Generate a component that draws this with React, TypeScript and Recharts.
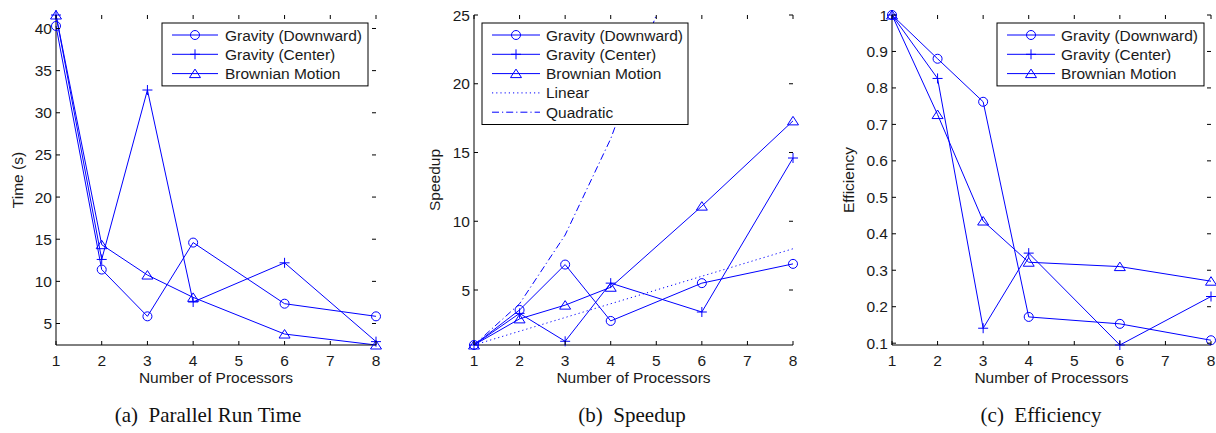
import { Line, LineChart, XAxis, YAxis } from "recharts";

// processor counts used on the x axis
const procs = [1, 2, 3, 4, 6, 8];
const xTicks = [1, 2, 3, 4, 5, 6, 7, 8];

// (a) parallel run time, seconds
const timeDownward = [40.3, 11.4, 5.85, 14.6, 7.35, 5.85];
const timeCenter = [41.6, 12.6, 32.7, 7.55, 12.2, 2.85];
const timeBrownian = [41.6, 14.35, 10.75, 8.1, 3.75, 2.45];
const timeTicks = [5, 10, 15, 20, 25, 30, 35, 40];

// (b) speedup
const speedDownward = [1, 3.55, 6.85, 2.75, 5.5, 6.9];
const speedCenter = [1, 3.3, 1.27, 5.5, 3.4, 14.6];
const speedBrownian = [1, 2.9, 3.9, 5.2, 11.1, 17.3];
const linearX = [1, 2, 3, 4, 5, 6, 7, 8];
const linearY = [1, 2, 3, 4, 5, 6, 7, 8];
const quadX = [1, 2, 3, 4, 5];
const quadY = [1, 4, 9, 16, 25];
const speedTicks = [5, 10, 15, 20, 25];

// (c) efficiency
const effDownward = [1, 0.88, 0.762, 0.172, 0.153, 0.108];
const effCenter = [1, 0.826, 0.141, 0.347, 0.095, 0.228];
const effBrownian = [1, 0.727, 0.435, 0.322, 0.31, 0.27];
const effTicks = [0.1, 0.2, 0.3, 0.4, 0.5, 0.6, 0.7, 0.8, 0.9, 1];

const BLUE = "#0000ff";
const INK = "#1a1a1a";
const SANS = "'Liberation Sans', Arial, sans-serif";
const SERIF = "'Liberation Serif', 'Times New Roman', serif";
const FS = 15.5;

const TOP = 15;
const BOTTOM = 345;
const Y_W = 56;

type Kind = "o" | "+" | "^" | "";
type Series = { name: string; x: number[]; y: number[]; marker: Kind; dash?: string };

const toRows = (x: number[], y: number[]) => x.map((v, i) => ({ x: v, y: y[i] }));

const timeSeries: Series[] = [
  { name: "Gravity (Downward)", x: procs, y: timeDownward, marker: "o" },
  { name: "Gravity (Center)", x: procs, y: timeCenter, marker: "+" },
  { name: "Brownian Motion", x: procs, y: timeBrownian, marker: "^" },
];
const speedSeries: Series[] = [
  { name: "Gravity (Downward)", x: procs, y: speedDownward, marker: "o" },
  { name: "Gravity (Center)", x: procs, y: speedCenter, marker: "+" },
  { name: "Brownian Motion", x: procs, y: speedBrownian, marker: "^" },
  { name: "Linear", x: linearX, y: linearY, marker: "", dash: "1.2 3" },
  { name: "Quadratic", x: quadX, y: quadY, marker: "", dash: "7 3 1.2 3" },
];
const effSeries: Series[] = [
  { name: "Gravity (Downward)", x: procs, y: effDownward, marker: "o" },
  { name: "Gravity (Center)", x: procs, y: effCenter, marker: "+" },
  { name: "Brownian Motion", x: procs, y: effBrownian, marker: "^" },
];

function Marker({ kind, cx, cy }: { kind: Kind; cx: number; cy: number }) {
  if (kind === "o") return <circle cx={cx} cy={cy} r={4.5} fill="none" stroke={BLUE} />;
  if (kind === "+")
    return <path d={`M${cx - 5},${cy}H${cx + 5}M${cx},${cy - 5}V${cy + 5}`} stroke={BLUE} fill="none" />;
  if (kind === "^")
    return (
      <path d={`M${cx},${cy - 4.5}L${cx + 5.5},${cy + 4}L${cx - 5.5},${cy + 4}Z`} stroke={BLUE} fill="none" />
    );
  return null;
}

function Panel({
  plotLeft,
  plotWidth,
  series,
  yDomain,
  yTicks,
}: {
  plotLeft: number;
  plotWidth: number;
  series: Series[];
  yDomain: any[];
  yTicks: number[];
}) {
  const right = Y_W + plotWidth;

  const xTick = (p: any) => (
    <g>
      <line x1={p.x} x2={p.x} y1={BOTTOM} y2={BOTTOM - 4} stroke="#000" />
      <line x1={p.x} x2={p.x} y1={TOP} y2={TOP + 4} stroke="#000" />
      <text x={p.x} y={BOTTOM + 20.5} textAnchor="middle" fontFamily={SANS} fontSize={FS} fill={INK}>
        {p.payload.value}
      </text>
    </g>
  );

  const yTick = (p: any) => (
    <g>
      <line x1={Y_W} x2={Y_W + 4} y1={p.y} y2={p.y} stroke="#000" />
      <line x1={right} x2={right - 4} y1={p.y} y2={p.y} stroke="#000" />
      <text x={Y_W - 4} y={p.y + 5.5} textAnchor="end" fontFamily={SANS} fontSize={FS} fill={INK}>
        {p.payload.value}
      </text>
    </g>
  );

  return (
    <div style={{ position: "absolute", left: plotLeft - Y_W, top: 0 }}>
      <LineChart width={plotWidth + Y_W + 12} height={433} margin={{ top: TOP, right: 12, bottom: 63, left: 0 }}>
        <XAxis
          type="number"
          dataKey="x"
          domain={[1, 8]}
          ticks={xTicks}
          interval={0}
          height={25}
          axisLine={{ stroke: "#000" }}
          tickLine={false}
          tick={xTick}
        />
        <XAxis xAxisId="top" orientation="top" type="number" domain={[1, 8]} height={0} tick={false} tickLine={false} axisLine={{ stroke: "#000" }} />
        <YAxis
          type="number"
          dataKey="y"
          domain={yDomain}
          ticks={yTicks}
          interval={0}
          width={Y_W}
          axisLine={{ stroke: "#000" }}
          tickLine={false}
          tick={yTick}
        />
        <YAxis yAxisId="right" orientation="right" type="number" domain={[0, 1]} width={0} tick={false} tickLine={false} axisLine={{ stroke: "#000" }} />
        {series.map((s) => (
          <Line
            key={s.name}
            data={toRows(s.x, s.y)}
            dataKey="y"
            name={s.name}
            stroke={BLUE}
            strokeWidth={1}
            strokeDasharray={s.dash}
            isAnimationActive={false}
            dot={
              s.marker
                ? (p: any) => <Marker key={`${s.name}-${p.index}`} kind={s.marker} cx={p.cx} cy={p.cy} />
                : false
            }
            activeDot={false}
          />
        ))}
      </LineChart>
    </div>
  );
}

function LegendBox({
  x,
  width,
  series,
  lineFrom,
  lineTo,
  textX,
}: {
  x: number;
  width: number;
  series: Series[];
  lineFrom: number;
  lineTo: number;
  textX: number;
}) {
  const rowH = 19.3;
  return (
    <g>
      <rect x={x} y={23} width={width} height={series.length * rowH + 5} fill="#fff" stroke="#000" />
      {series.map((s, i) => {
        const cy = 35 + i * rowH;
        return (
          <g key={s.name}>
            <line x1={lineFrom} x2={lineTo} y1={cy} y2={cy} stroke={BLUE} strokeDasharray={s.dash} />
            <Marker kind={s.marker} cx={(lineFrom + lineTo) / 2} cy={cy} />
            <text x={textX} y={cy + 5.5} fontFamily={SANS} fontSize={FS} fill={INK}>
              {s.name}
            </text>
          </g>
        );
      })}
    </g>
  );
}

export default function App() {
  const panels = [
    { plotLeft: 56, plotWidth: 320, yLabel: "Time (s)", yLabelX: 22.5, caption: "(a)\u2002Parallel Run Time", capX: 208 },
    { plotLeft: 474, plotWidth: 319, yLabel: "Speedup", yLabelX: 440, caption: "(b)\u2002Speedup", capX: 632 },
    { plotLeft: 892, plotWidth: 319, yLabel: "Efficiency", yLabelX: 854, caption: "(c)\u2002Efficiency", capX: 1041 },
  ];

  return (
    <div style={{ position: "absolute", left: 0, top: 0, width: 1216, height: 433, overflow: "hidden", background: "#fff" }}>
      <Panel plotLeft={56} plotWidth={320} series={timeSeries} yDomain={["dataMin", "dataMax"]} yTicks={timeTicks} />
      <Panel plotLeft={474} plotWidth={319} series={speedSeries} yDomain={[1, 25]} yTicks={speedTicks} />
      <Panel plotLeft={892} plotWidth={319} series={effSeries} yDomain={["dataMin", "dataMax"]} yTicks={effTicks} />
      <svg width={1216} height={433} style={{ position: "absolute", left: 0, top: 0, pointerEvents: "none" }}>
        <LegendBox x={162} width={206} series={timeSeries} lineFrom={172} lineTo={218} textX={225} />
        <LegendBox x={482} width={206} series={speedSeries} lineFrom={492} lineTo={540} textX={546} />
        <LegendBox x={997} width={207} series={effSeries} lineFrom={1007} lineTo={1055} textX={1061} />
        {panels.map((p) => (
          <g key={p.caption}>
            <text
              transform={`translate(${p.yLabelX},180) rotate(-90)`}
              textAnchor="middle"
              fontFamily={SANS}
              fontSize={FS}
              fill={INK}
            >
              {p.yLabel}
            </text>
            <text x={p.plotLeft + p.plotWidth / 2} y={383} textAnchor="middle" fontFamily={SANS} fontSize={FS} fill={INK}>
              Number of Processors
            </text>
            <text x={p.capX} y={422} textAnchor="middle" fontFamily={SERIF} fontSize={21} fill="#111">
              {p.caption}
            </text>
          </g>
        ))}
      </svg>
    </div>
  );
}
